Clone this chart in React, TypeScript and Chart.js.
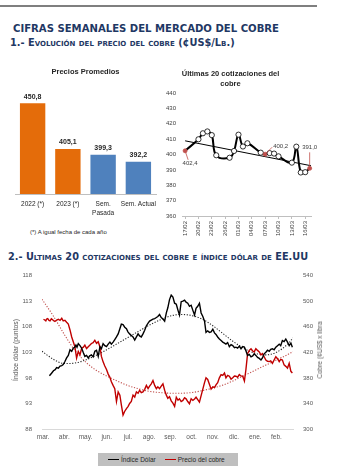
import React, { useEffect, useRef } from 'react';
import { Chart, registerables } from 'chart.js';
Chart.register(...registerables);

// ---------- Data: Precios Promedios ----------
const barCategories = [['2022 (*)'], ['2023 (*)'], ['Sem.', 'Pasada'], ['Sem. Actual']];
const barValues = [450.8, 405.1, 399.3, 392.2];
const barColors = ['#E46C0A', '#E46C0A', '#4F81BD', '#4F81BD'];

// ---------- Data: Últimas 20 cotizaciones (day offset from 17/02) ----------
const quoteDays = [0, 3, 4, 5, 6, 7, 10, 11, 12, 13, 14, 17, 18, 19, 20, 21, 24, 25, 26, 27, 28];
const quotePrices = [402.4, 409.9, 413.8, 415.0, 412.6, 399.5, 397.9, 402.3, 412.9, 405.2, 407.3, 401.2, 400.2, 400.9, 400.6, 398.8, 394.7, 405.1, 388.3, 388.5, 391.0];
const quoteTickDays = [0, 3, 6, 9, 12, 15, 18, 21, 24, 27];
const quoteTickLabels = ['17/02', '20/02', '23/02', '26/02', '01/03', '04/03', '07/03', '10/03', '13/03', '16/03'];
const quoteTrendDays = [0, 28.3];
const quoteTrendValues = [408.9, 392.7];
const labeledQuoteIdx = [0, 12, 20];

// ---------- Data: cobre e índice dólar (x in months from "mar.") ----------
const monthLabels = ['mar.', 'abr.', 'may.', 'jun.', 'jul.', 'ago.', 'sep.', 'oct.', 'nov.', 'dic.', 'ene.', 'feb.'];
const dolarMonths = [0.30, 0.40, 0.49, 0.57, 0.64, 0.72, 0.80, 0.88, 0.95, 1.03, 1.11, 1.19, 1.27, 1.35, 1.42, 1.50, 1.55, 1.60, 1.66, 1.74, 1.82, 1.90, 1.97, 2.05, 2.13, 2.20, 2.28, 2.36, 2.44, 2.52, 2.60, 2.68, 2.75, 2.83, 2.91, 2.99, 3.07, 3.15, 3.22, 3.30, 3.38, 3.46, 3.54, 3.62, 3.69, 3.77, 3.85, 3.93, 4.00, 4.08, 4.16, 4.24, 4.32, 4.40, 4.48, 4.55, 4.63, 4.71, 4.79, 4.87, 4.95, 5.02, 5.10, 5.18, 5.26, 5.34, 5.41, 5.49, 5.57, 5.65, 5.73, 5.81, 5.88, 5.96, 6.04, 6.12, 6.20, 6.28, 6.36, 6.43, 6.51, 6.59, 6.67, 6.74, 6.82, 6.90, 6.98, 7.06, 7.14, 7.21, 7.29, 7.37, 7.45, 7.53, 7.61, 7.68, 7.76, 7.84, 7.92, 8.00, 8.08, 8.15, 8.23, 8.31, 8.39, 8.47, 8.55, 8.62, 8.70, 8.78, 8.86, 8.94, 9.02, 9.09, 9.17, 9.25, 9.33, 9.41, 9.49, 9.56, 9.64, 9.72, 9.80, 9.88, 9.95, 10.03, 10.11, 10.19, 10.27, 10.34, 10.42, 10.50, 10.58, 10.66, 10.73, 10.81, 10.89, 10.97, 11.05, 11.13, 11.20, 11.28, 11.36, 11.44, 11.52, 11.60, 11.68, 11.75];
const dolarValues = [98.4, 98.9, 99.4, 99.6, 100.0, 99.9, 100.3, 100.4, 100.6, 101.2, 101.9, 102.4, 103.5, 103.2, 103.8, 104.0, 104.4, 104.0, 104.7, 104.3, 103.8, 102.9, 102.2, 102.4, 101.9, 102.3, 102.5, 102.1, 103.2, 103.4, 102.2, 104.1, 103.7, 104.7, 104.3, 104.1, 104.6, 105.0, 104.6, 105.0, 105.5, 106.0, 106.6, 107.6, 108.5, 108.4, 107.9, 107.6, 107.0, 106.6, 106.3, 106.0, 105.4, 106.0, 106.6, 106.2, 106.0, 106.6, 107.3, 108.2, 108.7, 109.1, 109.3, 109.5, 109.6, 109.8, 110.0, 110.4, 109.8, 109.5, 109.1, 110.7, 111.7, 113.3, 114.2, 113.8, 112.6, 112.4, 111.2, 110.3, 112.9, 113.0, 113.2, 112.8, 112.6, 112.0, 112.2, 111.2, 110.3, 111.6, 112.0, 112.6, 110.7, 110.0, 109.1, 106.9, 107.2, 106.9, 107.0, 107.5, 106.8, 106.5, 106.0, 105.6, 105.3, 105.0, 104.8, 104.6, 104.9, 104.1, 104.5, 104.3, 103.9, 104.0, 103.8, 104.2, 103.7, 104.1, 104.0, 103.3, 102.4, 102.6, 102.1, 102.3, 102.7, 102.4, 102.0, 101.8, 101.5, 101.9, 102.7, 103.0, 103.4, 103.2, 103.6, 103.7, 103.5, 104.0, 104.3, 104.6, 104.3, 105.3, 105.1, 105.6, 105.0, 104.3, 104.8, 104.0];
const cobreMonths = [0.02, 0.08, 0.13, 0.17, 0.22, 0.28, 0.33, 0.39, 0.44, 0.50, 0.56, 0.64, 0.72, 0.80, 0.88, 0.95, 1.03, 1.11, 1.19, 1.27, 1.35, 1.42, 1.50, 1.58, 1.66, 1.74, 1.82, 1.90, 1.97, 2.05, 2.13, 2.20, 2.28, 2.36, 2.44, 2.52, 2.60, 2.68, 2.75, 2.83, 2.91, 2.99, 3.07, 3.15, 3.22, 3.30, 3.38, 3.46, 3.54, 3.62, 3.69, 3.77, 3.85, 3.93, 4.01, 4.08, 4.16, 4.24, 4.32, 4.40, 4.48, 4.55, 4.63, 4.71, 4.79, 4.87, 4.95, 5.02, 5.10, 5.18, 5.26, 5.34, 5.41, 5.49, 5.57, 5.65, 5.73, 5.81, 5.88, 5.96, 6.04, 6.12, 6.20, 6.28, 6.36, 6.43, 6.51, 6.59, 6.67, 6.74, 6.82, 6.90, 6.98, 7.06, 7.14, 7.21, 7.29, 7.37, 7.45, 7.53, 7.61, 7.68, 7.76, 7.84, 7.92, 8.00, 8.08, 8.15, 8.23, 8.31, 8.39, 8.47, 8.55, 8.62, 8.70, 8.78, 8.86, 8.94, 9.02, 9.09, 9.17, 9.25, 9.33, 9.41, 9.49, 9.56, 9.64, 9.72, 9.80, 9.88, 9.95, 10.03, 10.11, 10.19, 10.27, 10.34, 10.42, 10.50, 10.58, 10.66, 10.73, 10.81, 10.89, 10.97, 11.05, 11.13, 11.20, 11.28, 11.36, 11.44, 11.52, 11.60, 11.68, 11.75];
const cobreValues = [471.7, 470.5, 469.2, 472.0, 472.7, 470.0, 469.2, 472.5, 471.2, 469.5, 468.2, 470.5, 471.7, 470.0, 473.2, 469.2, 470.2, 467.0, 464.1, 455.0, 443.9, 437.0, 428.8, 411.1, 421.2, 416.2, 426.3, 428.0, 431.3, 426.0, 428.8, 431.0, 433.8, 435.0, 438.9, 434.0, 436.4, 428.8, 413.6, 405.0, 398.5, 393.0, 385.9, 380.8, 374.0, 368.2, 363.1, 343.0, 358.1, 353.0, 337.9, 321.7, 327.8, 332.0, 335.4, 340.0, 343.0, 353.0, 350.0, 358.1, 356.0, 360.6, 357.0, 358.1, 362.0, 368.2, 363.1, 367.0, 370.7, 375.8, 368.2, 363.1, 366.0, 363.1, 367.0, 370.7, 360.6, 353.0, 348.0, 350.5, 344.0, 340.4, 335.4, 349.7, 345.0, 347.2, 343.0, 344.7, 349.0, 347.2, 343.0, 339.6, 347.2, 344.7, 347.0, 349.7, 346.0, 342.1, 352.2, 362.4, 372.5, 380.1, 377.5, 370.0, 362.4, 366.0, 364.9, 369.0, 372.5, 380.1, 385.1, 384.0, 387.7, 380.1, 384.0, 382.6, 378.0, 380.1, 383.0, 382.6, 381.0, 385.1, 383.0, 382.6, 375.0, 392.7, 418.0, 423.1, 425.6, 422.0, 420.6, 425.6, 423.0, 420.6, 416.0, 418.0, 413.0, 407.9, 406.0, 405.4, 406.5, 402.8, 408.0, 413.0, 410.0, 405.4, 409.0, 407.9, 400.3, 398.0, 395.3, 402.8, 390.2, 387.7];
const trendMonths = [-0.05, 0.5, 1, 1.5, 2, 2.5, 3, 3.5, 4, 4.5, 5, 5.5, 6, 6.5, 7, 7.5, 8, 8.5, 9, 9.5, 10, 10.5, 11, 11.5, 11.78];
const dolarTrend = [103.2, 101.6, 100.8, 100.9, 101.5, 102.4, 103.5, 104.7, 105.9, 107.1, 108.3, 109.3, 110.1, 110.4, 110.2, 109.5, 108.2, 106.6, 105.0, 103.7, 102.8, 102.5, 103.0, 104.5, 105.8];
const cobreTrend = [503, 476, 448, 423, 405, 392, 383, 375, 368, 363, 359, 357, 356, 356, 357, 360, 364, 369, 376, 384, 392, 400, 408, 416, 421];

const FONT = '"Liberation Sans", Arial, sans-serif';
const fmt = (v: number) => v.toFixed(1).replace('.', ',');
const pairs = (xs: number[], ys: number[]) => xs.map((x, i) => ({ x, y: ys[i] }));

Chart.defaults.font.family = FONT;

function ChartCanvas({ left, top, width, height, make }: any) {
  const ref = useRef<HTMLCanvasElement | null>(null);
  useEffect(() => {
    const c = new Chart(ref.current as HTMLCanvasElement, make());
    return () => c.destroy();
  }, []);
  return (
    <canvas
      ref={ref}
      width={width}
      height={height}
      style={{ position: 'absolute', left, top, width, height }}
    />
  );
}

const barValuePlugin = {
  id: 'barValues',
  afterDatasetsDraw(chart: any) {
    const ctx = chart.ctx;
    const meta = chart.getDatasetMeta(0);
    ctx.save();
    ctx.font = `bold 7px ${FONT}`;
    ctx.fillStyle = '#262626';
    ctx.textAlign = 'center';
    ctx.textBaseline = 'bottom';
    meta.data.forEach((el: any, i: number) => ctx.fillText(fmt(barValues[i]), el.x, el.y - 3));
    ctx.restore();
  },
};

const makeBar = () => ({
  type: 'bar',
  data: {
    labels: barCategories,
    datasets: [{ data: barValues, backgroundColor: barColors, barPercentage: 0.72, categoryPercentage: 1 }],
  },
  options: {
    responsive: false,
    animation: false,
    layout: { padding: { left: 15, right: 12, top: 0, bottom: 0 } },
    plugins: {
      legend: { display: false },
      tooltip: { enabled: false },
      title: {
        display: true,
        text: 'Precios Promedios',
        color: '#262626',
        font: { size: 7.5, weight: 'bold', family: FONT, lineHeight: 1.2 },
        padding: { top: 5, bottom: 8 },
      },
    },
    scales: {
      x: {
        grid: { display: false, drawTicks: false },
        border: { display: true, color: '#bfbfbf' },
        ticks: { color: '#262626', font: { size: 6.5, lineHeight: 1.35 }, padding: 6, maxRotation: 0, autoSkip: false },
        afterFit: (s: any) => { s.height = 28; },
      },
      y: { display: false, min: 360, max: 470 },
    },
  },
  plugins: [barValuePlugin],
});

const quoteLabelLayout = [
  { lx: 3, ly: 9, tx: 5, ty: 13, align: 'center' },
  { lx: 7, ly: -7, tx: 8, ty: -8, align: 'left' },
  { lx: 0, ly: -16, tx: 0, ty: -21, align: 'center' },
];

const quoteLabelPlugin = {
  id: 'quoteLabels',
  afterDatasetsDraw(chart: any) {
    const ctx = chart.ctx;
    const meta = chart.getDatasetMeta(0);
    ctx.save();
    ctx.font = `6px ${FONT}`;
    ctx.textBaseline = 'middle';
    labeledQuoteIdx.forEach((idx, k) => {
      const el = meta.data[idx];
      const L = quoteLabelLayout[k];
      ctx.strokeStyle = '#C0504D';
      ctx.lineWidth = 0.8;
      ctx.beginPath();
      ctx.moveTo(el.x, el.y);
      ctx.lineTo(el.x + L.lx, el.y + L.ly);
      ctx.stroke();
      ctx.fillStyle = '#404040';
      ctx.textAlign = L.align;
      ctx.fillText(fmt(quotePrices[idx]), el.x + L.tx, el.y + L.ty);
    });
    ctx.restore();
  },
};

const makeQuotes = () => ({
  type: 'line',
  data: {
    datasets: [
      {
        data: pairs(quoteDays, quotePrices),
        borderColor: '#000',
        borderWidth: 2,
        tension: 0.4,
        clip: false,
        pointRadius: (c: any) => (labeledQuoteIdx.includes(c.dataIndex) ? 2 : 2.6),
        pointBackgroundColor: (c: any) => (labeledQuoteIdx.includes(c.dataIndex) ? '#C0504D' : '#fff'),
        pointBorderColor: (c: any) => (labeledQuoteIdx.includes(c.dataIndex) ? '#C0504D' : '#000'),
        pointBorderWidth: 0.8,
      },
      {
        data: pairs(quoteTrendDays, quoteTrendValues),
        borderColor: '#000',
        borderWidth: 1,
        pointRadius: 0,
        clip: false,
      },
    ],
  },
  options: {
    responsive: false,
    animation: false,
    layout: { padding: { left: 0, right: 9, top: 0, bottom: 0 } },
    plugins: {
      legend: { display: false },
      tooltip: { enabled: false },
      title: {
        display: true,
        text: ['Últimas 20 cotizaciones del', 'cobre'],
        color: '#262626',
        font: { size: 7.5, weight: 'bold', family: FONT, lineHeight: 1.3 },
        padding: { top: 7, bottom: 4.5 },
      },
    },
    scales: {
      x: {
        type: 'linear',
        min: -0.7,
        max: 28.3,
        afterBuildTicks: (s: any) => { s.ticks = quoteTickDays.map((v) => ({ value: v })); },
        grid: { display: true, drawOnChartArea: false, drawTicks: true, tickLength: 3, color: '#bfbfbf' },
        border: { display: true, color: '#bfbfbf' },
        ticks: {
          color: '#404040',
          font: { size: 6 },
          padding: 2,
          minRotation: 90,
          maxRotation: 90,
          autoSkip: false,
          callback: (v: any) => quoteTickLabels[quoteTickDays.indexOf(v)] ?? '',
        },
        afterFit: (s: any) => { s.height = 26; },
      },
      y: {
        min: 360,
        max: 440,
        grid: { display: false, drawTicks: false },
        border: { display: false },
        ticks: { stepSize: 10, color: '#404040', font: { size: 6 }, padding: 6 },
        afterFit: (s: any) => { s.width = 32; },
      },
    },
  },
  plugins: [quoteLabelPlugin],
});

const makeDolar = () => ({
  type: 'line',
  data: {
    datasets: [
      { data: pairs(dolarMonths, dolarValues), yAxisID: 'y', borderColor: '#000', borderWidth: 1.4, pointRadius: 0, tension: 0 },
      { data: pairs(cobreMonths, cobreValues), yAxisID: 'y1', borderColor: '#C00000', borderWidth: 1.4, pointRadius: 0, tension: 0 },
      { data: pairs(trendMonths, dolarTrend), yAxisID: 'y', borderColor: '#262626', borderWidth: 1.1, borderDash: [1.2, 1.6], pointRadius: 0, cubicInterpolationMode: 'monotone' },
      { data: pairs(trendMonths, cobreTrend), yAxisID: 'y1', borderColor: '#C0504D', borderWidth: 1.1, borderDash: [1.2, 1.6], pointRadius: 0, cubicInterpolationMode: 'monotone' },
    ],
  },
  options: {
    responsive: false,
    animation: false,
    layout: { padding: { left: 0, right: 0, top: 9.5, bottom: 0 } },
    plugins: { legend: { display: false }, tooltip: { enabled: false } },
    scales: {
      x: {
        type: 'linear',
        min: -0.05,
        max: 11.78,
        afterBuildTicks: (s: any) => { s.ticks = monthLabels.map((_, i) => ({ value: i })); },
        grid: { display: false, drawTicks: false },
        border: { display: true, color: '#d9d9d9' },
        ticks: {
          color: '#595959',
          font: { size: 6.5 },
          padding: 4,
          maxRotation: 0,
          autoSkip: false,
          callback: (v: any) => monthLabels[v] ?? '',
        },
        afterFit: (s: any) => { s.height = 18; },
      },
      y: {
        position: 'left',
        min: 88,
        max: 118,
        grid: { display: false, drawTicks: false },
        border: { display: false },
        ticks: { stepSize: 5, color: '#595959', font: { size: 6 }, padding: 10 },
        afterFit: (s: any) => { s.width = 42; },
      },
      y1: {
        position: 'right',
        min: 300,
        max: 540,
        grid: { display: false, drawTicks: false },
        border: { display: false },
        ticks: { stepSize: 40, color: '#595959', font: { size: 6 }, padding: 10 },
        afterFit: (s: any) => { s.width = 49; },
      },
    },
  },
});

const abs = (s: any): any => ({ position: 'absolute', whiteSpace: 'nowrap', ...s });

export default function App() {
  const navy = '#1F3864';
  return (
    <div style={{ position: 'absolute', left: 0, top: 0, width: 342, height: 476, background: '#fff', overflow: 'hidden' }}>
      <div style={abs({ left: 0, top: 5, width: 317, height: 0, borderTop: '2px solid #7f7f7f' })} />
      <div style={abs({ left: 13, top: 23, font: 'bold 10.1px/12px "DejaVu Sans", Verdana, sans-serif', color: navy })}>
        CIFRAS SEMANALES DEL MERCADO DEL COBRE
      </div>
      <div style={abs({ left: 10, top: 37, font: 'bold 9.8px/12px "DejaVu Sans", Verdana, sans-serif', fontVariant: 'small-caps', color: navy })}>
        1.- Evolución del precio del cobre (¢US$/Lb.)
      </div>

      <ChartCanvas left={0} top={62} width={168} height={160} make={makeBar} />
      <div style={abs({ left: 30, top: 228, font: `6px/8px ${FONT}`, color: '#262626' })}>(*) A igual fecha de cada año</div>

      <ChartCanvas left={150} top={62} width={170} height={180} make={makeQuotes} />

      <div style={abs({ left: 8, top: 251, font: 'bold 9.75px/12px "DejaVu Sans", Verdana, sans-serif', fontVariant: 'small-caps', color: navy })}>
        2.- Ultimas 20 cotizaciones del cobre e índice dólar de EE.UU
      </div>

      <ChartCanvas left={0} top={262} width={342} height={185} make={makeDolar} />
      <div style={abs({ left: 16, top: 350, transform: 'translate(-50%, -50%) rotate(-90deg)', font: `6.8px/8px ${FONT}`, color: '#595959' })}>
        Índice dólar (puntos)
      </div>
      <div style={abs({ left: 320, top: 350, transform: 'translate(-50%, -50%) rotate(-90deg)', font: `6.5px/8px ${FONT}`, color: '#595959' })}>
        Cobre (¢US$ x libra
      </div>

      <div style={abs({ left: 98, top: 453, width: 140, height: 13, background: '#BFBFBF', display: 'flex', alignItems: 'center', font: `6.5px/8px ${FONT}`, color: '#262626' })}>
        <span style={{ display: 'inline-block', width: 11, height: 1.5, background: '#000', marginLeft: 10, marginRight: 2 }} />
        <span>Índice Dólar</span>
        <span style={{ display: 'inline-block', width: 11, height: 1.5, background: '#C00000', marginLeft: 9, marginRight: 2 }} />
        <span>Precio del cobre</span>
      </div>
    </div>
  );
}
